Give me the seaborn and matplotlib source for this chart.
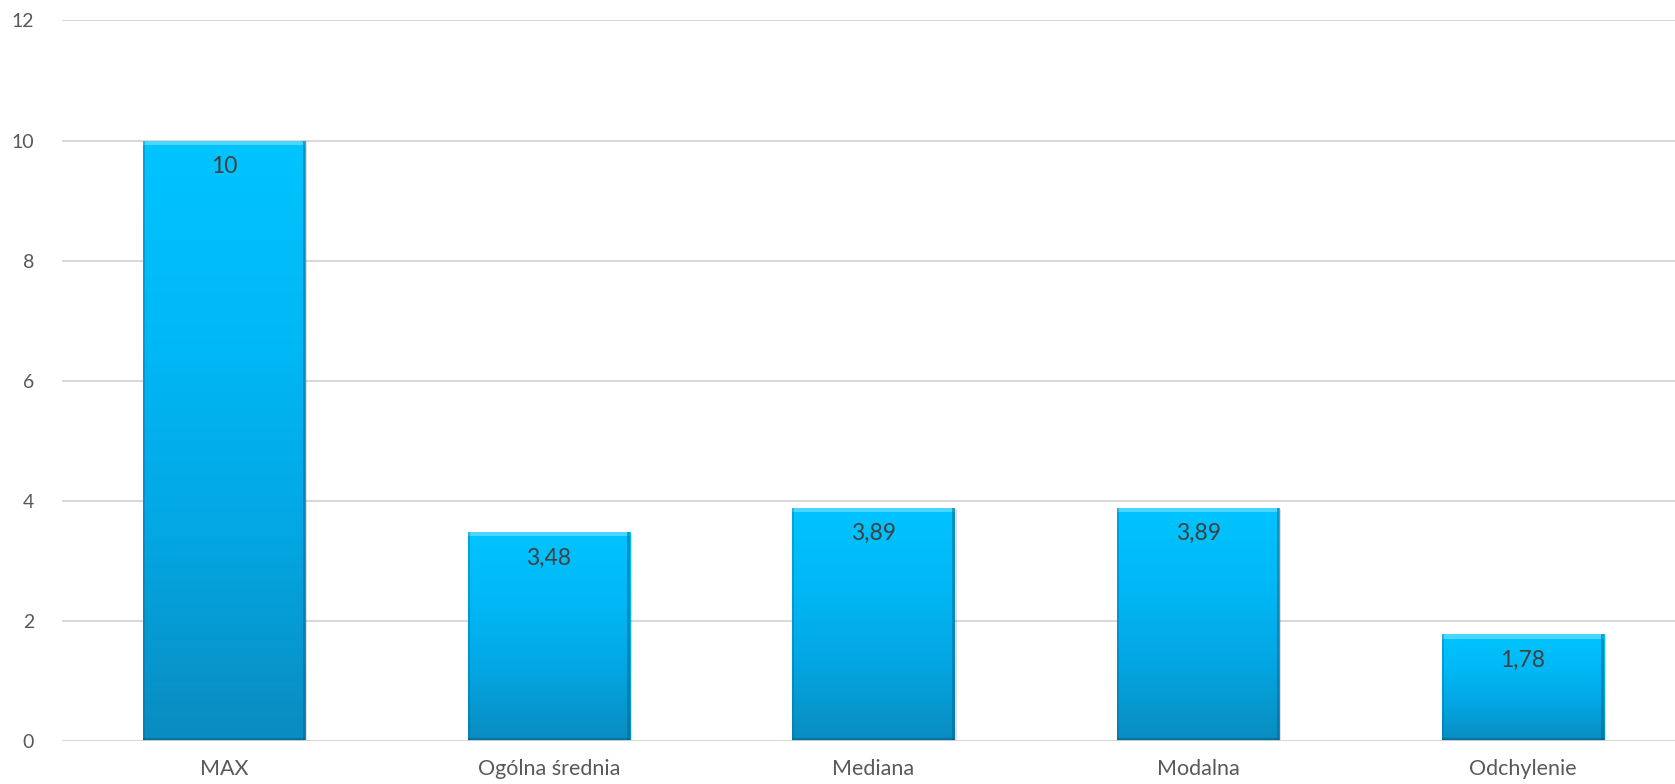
import numpy as np
import pandas as pd
import matplotlib
matplotlib.use("Agg")
import matplotlib.pyplot as plt
import seaborn as sns
from matplotlib.colors import LinearSegmentedColormap

categories = ["MAX", "Ogólna średnia", "Mediana", "Modalna", "Odchylenie"]
values = [10, 3.48, 3.89, 3.89, 1.78]
labels = ["10", "3,48", "3,89", "3,89", "1,78"]
yticks = [0, 2, 4, 6, 8, 10, 12]

sns.set_theme(style="white")
plt.rcParams["font.family"] = ["Lato", "DejaVu Sans"]

fig = plt.figure(figsize=(16.75, 7.84), dpi=100)
ax = fig.add_axes([0.037, 0.0545, 0.969, 0.9195])

df = pd.DataFrame({"cat": categories, "val": values})
sns.barplot(data=df, x="cat", y="val", ax=ax, color="#00B0F0", width=0.5,
            edgecolor="none", zorder=3)

ax.set_xlim(-0.5, 4.5)
ax.set_ylim(0, 12)
ax.set_yticks(yticks)
ax.set_yticklabels([str(t) for t in yticks])
ax.yaxis.grid(True, color="#d9d9d9", linewidth=1.5, zorder=0)
ax.set_axisbelow(True)
for s in ax.spines.values():
    s.set_visible(False)
ax.set_xlabel("")
ax.set_ylabel("")
ax.tick_params(axis="y", length=0, pad=20, labelsize=14, labelcolor="#595959")
ax.tick_params(axis="x", length=0, pad=13, labelsize=15.5, labelcolor="#595959")

cmap = LinearSegmentedColormap.from_list("g", ["#0a8cc0", "#03a6e2", "#00b8f6", "#00c4ff"])
grad = np.linspace(0, 1, 256).reshape(-1, 1)
for p in ax.patches:
    x0, y0 = p.get_x(), p.get_y()
    w, h = p.get_width(), p.get_height()
    # shadow
    ax.add_patch(plt.Rectangle((x0 + 0.006, y0), w, h - 0.03, color="#000000",
                               alpha=0.12, zorder=2, linewidth=0))
    im = ax.imshow(grad, extent=[x0, x0 + w, y0, y0 + h], origin="lower",
                   cmap=cmap, aspect="auto", zorder=4)
    im.set_clip_path(p)
    # bevel edges
    ax.add_patch(plt.Rectangle((x0, y0 + h - 0.07), w, 0.07, color="#5fdcff",
                               alpha=0.8, zorder=5, linewidth=0))
    ax.add_patch(plt.Rectangle((x0 + w - 0.008, y0), 0.008, h, color="#006a96",
                               alpha=0.55, zorder=5, linewidth=0))
    ax.add_patch(plt.Rectangle((x0, y0), 0.006, h, color="#006a96",
                               alpha=0.35, zorder=5, linewidth=0))
    ax.add_patch(plt.Rectangle((x0, y0), w, 0.06, color="#005a80",
                               alpha=0.5, zorder=5, linewidth=0))

for i, (v, lab) in enumerate(zip(values, labels)):
    ax.annotate(lab, (i, v), xytext=(0, -11), textcoords="offset points",
                ha="center", va="top", fontsize=16.5, color="#404040", zorder=6)

ax.axhline(0, color="#d9d9d9", linewidth=2, zorder=6)

fig.savefig("out.png", dpi=100)
